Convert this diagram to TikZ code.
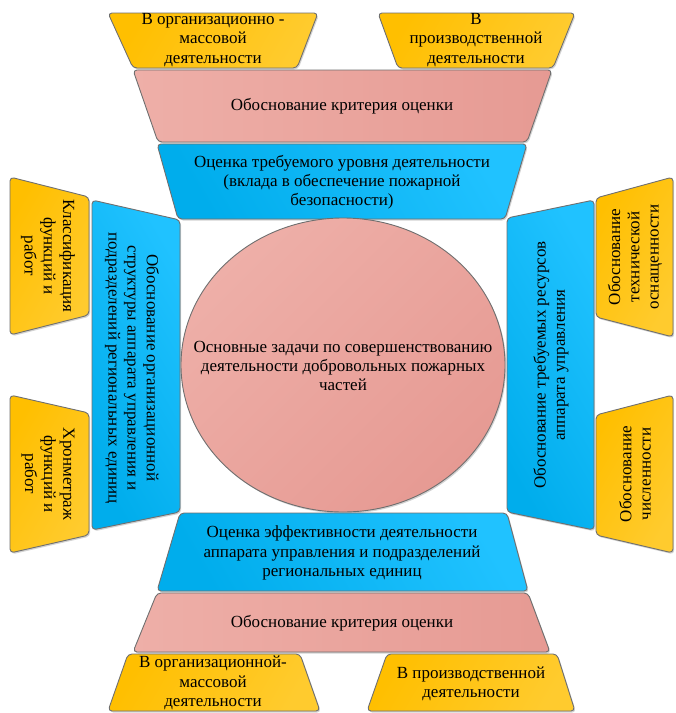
\documentclass[tikz,border=0pt]{standalone}
\usepackage{fontspec}
\setmainfont{Liberation Serif}
\usetikzlibrary{shadows,shapes.geometric,positioning}
\definecolor{ygold}{HTML}{FFBF00}
\definecolor{ylite}{HTML}{FFCB2E}
\definecolor{pkdark}{HTML}{E69A93}
\definecolor{pklite}{HTML}{EEAFA8}
\definecolor{bldark}{HTML}{00ADEC}
\definecolor{bllite}{HTML}{20C2FF}
\definecolor{rim}{HTML}{6F6F6F}
\tikzset{
  panel/.style={draw=rim,line width=0.9pt,rounded corners=4pt,
    drop shadow={shadow xshift=1.2pt,shadow yshift=-1.5pt,opacity=0.35}},
  yel/.style={panel,left color=ygold,right color=ylite,shading angle=60},
  pnk/.style={panel,left color=pklite,right color=pkdark},
  blu/.style={panel,left color=bldark,right color=bllite,shading angle=120},
  txt/.style={align=center,font=\fontsize{17}{19.2}\selectfont,inner sep=0pt}
}
\begin{document}
\begin{tikzpicture}[x=1pt,y=-1pt]
\useasboundingbox (0,0) rectangle (676,713);
% top
\path[yel] (108,13)--(318,13)--(297,68)--(133,68)--cycle;
\path[yel] (378,13)--(575,13)--(553,68)--(398,68)--cycle;
\path[pnk] (133,70)--(552,70)--(527,142)--(158,142)--cycle;
\path[blu] (157,144)--(527,144)--(505,219)--(178,219)--cycle;
\node[txt](oma) at (213,40) {В организационно -\\массовой\\деятельности};
\node[txt](pra) at (476,40) {В\\производственной\\деятельности};
\node[txt](kra) at (342,106) {Обоснование критерия оценки};
\node[txt](urv) at (342,182) {Оценка требуемого уровня деятельности\\(вклада в обеспечение пожарной\\безопасности)};
% left
\path[yel] (10,177)--(89,197)--(89,315)--(10,335)--cycle;
\path[yel] (10,395)--(89,413)--(89,535)--(10,553)--cycle;
\path[blu] (92,200)--(180,220)--(180,512)--(92,530)--cycle;
\node[txt,rotate=-90](klf) at (48,256) {Классификация\\функций и\\работ};
\node[txt,rotate=-90](hrn) at (48,474) {Хронметраж\\функций и\\работ};
\node[txt,rotate=-90](str) at (132,368) {Обоснование организационной\\структуры аппарата управления и\\подразделений региональных единиц};
% right
\path[yel] (596,198)--(673,177)--(673,337)--(596,317)--cycle;
\path[yel] (596,415)--(673,395)--(673,553)--(596,535)--cycle;
\path[blu] (507,218)--(594,200)--(594,530)--(507,512)--cycle;
\node[txt,rotate=90](osn) at (635,257) {Обоснование\\технической\\оснащенности};
\node[txt,rotate=90](chs) at (635,474) {Обоснование\\численности};
\node[txt,rotate=90](res) at (551,365) {Обоснование требуемых ресурсов\\аппарата управления};
% centre
\node[ellipse,draw=rim,line width=0.9pt,left color=pklite,right color=pkdark,shading angle=45,
  minimum width=324pt,minimum height=294pt,inner sep=0pt,
  drop shadow={shadow xshift=1.2pt,shadow yshift=-1.5pt,opacity=0.35}](core) at (343,365) {};
\node[txt](zad) at (343,366) {Основные задачи по совершенствованию\\деятельности добровольных пожарных\\частей};
% bottom
\path[blu] (180,513)--(507,513)--(528,591)--(157,591)--cycle;
\path[pnk] (157,593)--(528,593)--(550,652)--(133,652)--cycle;
\path[yel] (128,654)--(300,654)--(320,711)--(108,711)--cycle;
\path[yel] (387,654)--(557,654)--(575,711)--(367,711)--cycle;
\node[txt](eff) at (342,553) {Оценка эффективности деятельности\\аппарата управления и подразделений\\региональных единиц};
\node[txt](krb) at (342,623) {Обоснование критерия оценки};
\node[txt](omb) at (213,683) {В организационной-\\массовой\\деятельности};
\node[txt](prb) at (471,684) {В производственной\\деятельности};
\end{tikzpicture}
\end{document}
